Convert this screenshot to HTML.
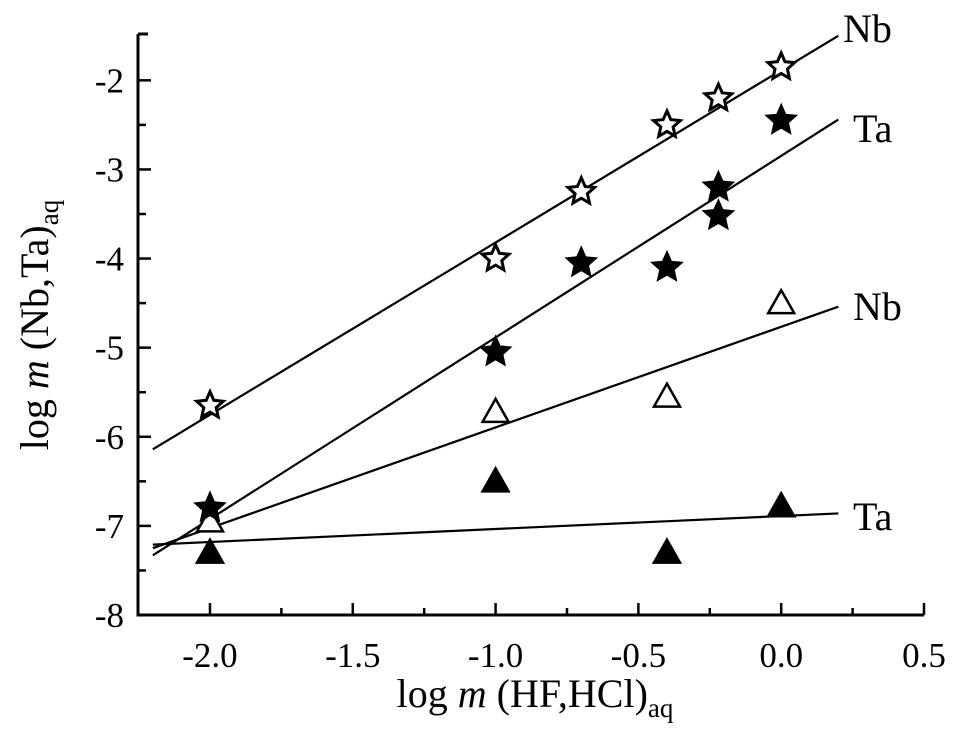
<!DOCTYPE html>
<html><head><meta charset="utf-8"><style>
html,body{margin:0;padding:0;background:#fff;}
svg{display:block;font-family:"Liberation Serif",serif;}
</style></head><body>
<svg id="chart" width="954" height="738" viewBox="0 0 954 738">
</svg>
<script>
const xTicks=[-2.0,-1.5,-1.0,-0.5,0.0,0.5];
const xTickLabels=["-2.0","-1.5","-1.0","-0.5","0.0","0.5"];
const yTicks=[-2,-3,-4,-5,-6,-7,-8];
const yTickLabels=["-2","-3","-4","-5","-6","-7","-8"];
const nbStarX=[-2,-1,-0.7,-0.4,-0.22,0];
const nbStarY=[-5.65,-4.0,-3.25,-2.5,-2.2,-1.85];
const taStarX=[-2,-1,-0.7,-0.4,-0.22,-0.22,0];
const taStarY=[-6.8,-5.05,-4.05,-4.1,-3.2,-3.52,-2.45];
const nbTriX=[-2,-1,-0.4,0];
const nbTriY=[-6.95,-5.72,-5.55,-4.5];
const taTriX=[-2,-1,-0.4,0];
const taTriY=[-7.3,-6.5,-7.3,-6.78];
const fitNames=["Nb","Ta","Nb","Ta"];
const fitStartY=[-6.14,-7.33,-7.25,-7.21];
const fitEndY=[-1.50,-2.44,-4.54,-6.86];
const fitX0=-2.2, fitX1=0.2;

const svg=document.getElementById('chart');
const NS="http://www.w3.org/2000/svg";
const X0=138,X1=924,Y0=615,YT=34;
const xMin=-2.252,xMax=0.5,yMin=-8,yMax=-1.48;
const sx=v=>X0+(v-xMin)/(xMax-xMin)*(X1-X0);
const sy=v=>Y0-(v-yMin)/(yMax-yMin)*(Y0-YT);
function mk(tag,attrs,parent){const e=document.createElementNS(NS,tag);for(const k in attrs)e.setAttribute(k,attrs[k]);(parent||svg).appendChild(e);return e;}

const axes=mk('g',{});


const ya=mk('line',{x1:X0,y1:YT,x2:X0,y2:Y0+1.5,stroke:'#000','stroke-width':3},axes);


const xa=mk('line',{x1:X0-1.5,y1:Y0,x2:X1,y2:Y0,stroke:'#000','stroke-width':3},axes);


mk('line',{x1:X0,y1:YT,x2:X0+10,y2:YT,stroke:'#000','stroke-width':3},axes);

xTicks.forEach((v,i)=>{
  const x=sx(v);
  mk('line',{x1:x,y1:Y0,x2:x,y2:Y0-12,stroke:'#000','stroke-width':2.5},axes);
  if(i<xTicks.length-1){const xm=sx(v+0.25);mk('line',{x1:xm,y1:Y0,x2:xm,y2:Y0-7,stroke:'#000','stroke-width':2.5},axes);}
  const t=mk('text',{x:x,y:Y0+52,'font-size':35,'text-anchor':'middle'},axes);
  t.textContent=xTickLabels[i];
  
  
});
yTicks.forEach((v,i)=>{
  const y=sy(v);
  mk('line',{x1:X0,y1:y,x2:X0+13,y2:y,stroke:'#000','stroke-width':2.5},axes);
  if(v>-8){const ym=sy(v-0.5);mk('line',{x1:X0,y1:ym,x2:X0+8,y2:ym,stroke:'#000','stroke-width':2.5},axes);}
  const t=mk('text',{x:X0-14,y:y+12,'font-size':35,'text-anchor':'end'},axes);
  t.textContent=yTickLabels[i];
  
  
});
const ytit=mk('text',{x:0,y:0,'font-size':40,'text-anchor':'middle',transform:'translate(48,325) rotate(-90)'});
ytit.innerHTML='log <tspan font-style="italic">m</tspan> (Nb,Ta)<tspan font-size="27" dy="10">aq</tspan>';


const xtit=mk('text',{x:535,y:707,'font-size':40,'text-anchor':'middle'});
xtit.innerHTML='log <tspan font-style="italic">m</tspan> (HF,HCl)<tspan font-size="27" dy="10">aq</tspan>';



const labelPos=[[843,42],[853,142],[853,320],[853,530]];
fitStartY.forEach((s,i)=>{
  const l=mk('line',{x1:sx(fitX0),y1:sy(s),x2:sx(fitX1),y2:sy(fitEndY[i]),stroke:'#000','stroke-width':2.2});
  
  
  const t=mk('text',{x:labelPos[i][0],y:labelPos[i][1],'font-size':40});
  t.textContent=fitNames[i];
  
  
});

function starPts(cx,cy,R,r){let p=[];for(let k=0;k<10;k++){const a=-Math.PI/2+k*Math.PI/5;const rr=k%2?r:R;p.push((cx+rr*Math.cos(a)).toFixed(1)+','+(cy+rr*Math.sin(a)).toFixed(1));}return p.join(' ');}
function drawStars(xs,ys,filled,name){
  xs.forEach((v,i)=>{
    const s=mk('polygon',{points:starPts(sx(v),sy(ys[i]),14,6.5),fill:filled?'#000':'#fff',stroke:'#000','stroke-width':3,'stroke-linejoin':'miter'});
    
    
  });
}
function drawTris(xs,ys,filled,name){
  xs.forEach((v,i)=>{
    const cx=sx(v),cy=sy(ys[i]);
    const s=mk('polygon',{points:`${cx},${cy-13} ${cx-13},${cy+10} ${cx+13},${cy+10}`,fill:filled?'#000':'#fff',stroke:'#000','stroke-width':2.5});
    
    
  });
}
drawTris(nbTriX,nbTriY,false,'nb-triangle-point');
drawTris(taTriX,taTriY,true,'ta-triangle-point');
drawStars(taStarX,taStarY,true,'ta-star-point');
drawStars(nbStarX,nbStarY,false,'nb-star-point');
</script>
</body></html>
